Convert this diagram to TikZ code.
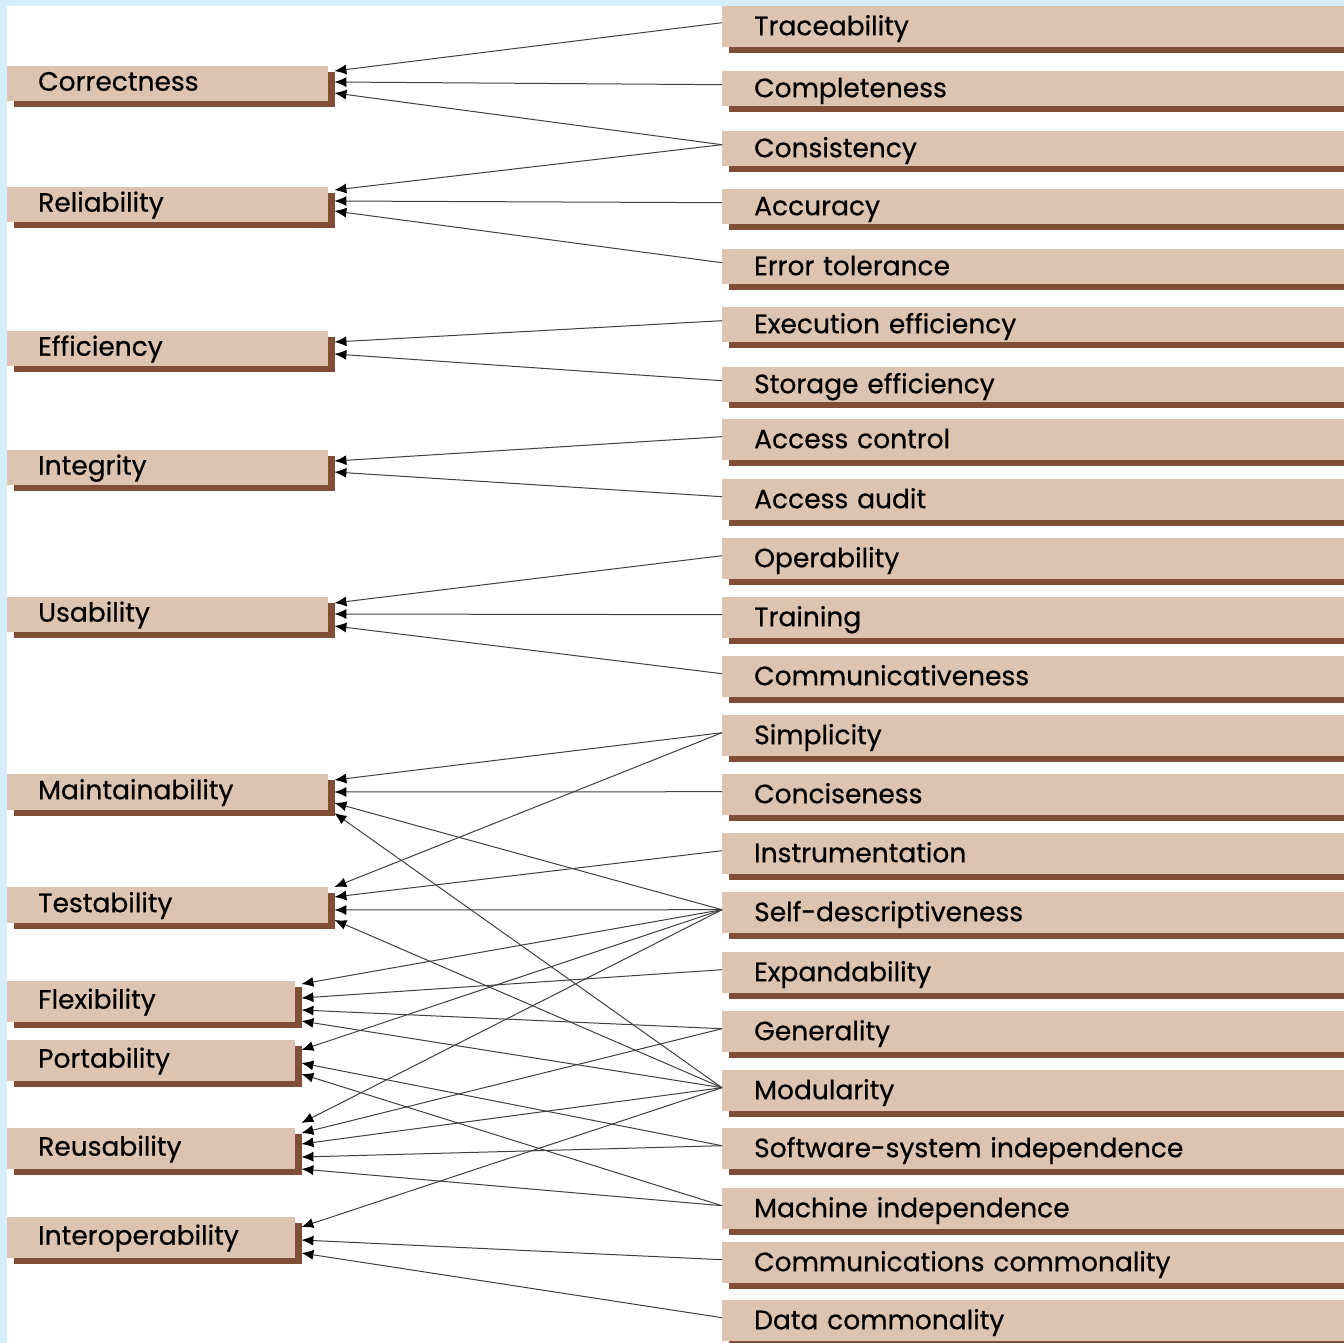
\documentclass[tikz,border=0pt]{standalone}
\usepackage{fontspec}
\setmainfont{Poppins}
\newfontfamily\labfamily{Poppins}[FakeBold=0.6]
\usetikzlibrary{arrows.meta,shadows}
\definecolor{boxfill}{RGB}{220,196,177}
\definecolor{shadowbr}{RGB}{128,78,54}
\definecolor{framebl}{RGB}{214,237,251}
\newcommand{\labfont}{\labfamily\fontsize{26.5pt}{30pt}\selectfont}

\begin{document}
\begin{tikzpicture}[x=1pt,y=-1pt,
    lbox/.style={anchor=north west, fill=boxfill,
      drop shadow={shadow xshift=7pt,shadow yshift=-6pt,fill=shadowbr,opacity=1},
      inner xsep=31pt, inner ysep=0pt, text width=259pt, minimum height=35pt,
      align=left, font=\labfont, text height=14pt, text depth=0pt},
    nbox/.style={lbox, text width=226pt, minimum height=41pt},
    sbox/.style={lbox, inner xsep=32pt, text width=600pt, text height=17pt,
      drop shadow={shadow xshift=8pt,shadow yshift=-6pt,fill=shadowbr,opacity=1}},
    rbox/.style={sbox, minimum height=41pt}]
      \useasboundingbox (0,0) rectangle (1344,1343);
      \fill[framebl] (0,0) rectangle (1344,1343);
      \fill[white] (7,6) rectangle (1344,1343);
      \clip (0,0) rectangle (1344,1343);
      % quality factors
      \draw
        (7,66) node[lbox] (corr){Correctness}
        (7,187) node[lbox] (rel){Reliability}
        (7,331) node[lbox] (eff){Efficiency}
        (7,450) node[lbox] (integ){Integrity}
        (7,597) node[lbox] (usab){Usability}
        (7,774) node[lbox,minimum height=36pt] (maint){Maintainability}
        (7,887) node[lbox,minimum height=36pt] (test){Testability}
        (7,981) node[nbox] (flex){Flexibility}
        (7,1040) node[nbox] (port){Portability}
        (7,1128) node[nbox] (reuse){Reusability}
        (7,1217) node[nbox] (interop){Interoperability};
      % criteria
      \draw
        (722,6) node[rbox] (trace){Traceability}
        (722,71) node[sbox] (compl){Completeness}
        (722,131) node[sbox] (consis){Consistency}
        (722,189) node[sbox] (accur){Accuracy}
        (722,249) node[sbox] (errtol){Error tolerance}
        (722,307) node[sbox] (exec){Execution efficiency}
        (722,367) node[sbox] (stor){Storage efficiency}
        (722,419) node[rbox] (acctrl){Access control}
        (722,479) node[rbox] (accaud){Access audit}
        (722,538) node[rbox] (oper){Operability}
        (722,597) node[rbox] (train){Training}
        (722,656) node[rbox] (comm){Communicativeness}
        (722,715) node[rbox] (simp){Simplicity}
        (722,774) node[rbox] (conc){Conciseness}
        (722,833) node[rbox] (instr){Instrumentation}
        (722,892) node[rbox] (sdesc){Self-descriptiveness}
        (722,952) node[rbox] (expand){Expandability}
        (722,1011) node[rbox] (gener){Generality}
        (722,1070) node[rbox] (modul){Modularity}
        (722,1128) node[rbox] (swsys){Software-system independence}
        (722,1188) node[rbox] (machine){Machine independence}
        (722,1242) node[rbox] (commc){Communications commonality}
        (722,1300) node[rbox] (datac){Data commonality};
      \begin{scope}[-{Latex[length=12pt,width=10pt,color=black]}, draw=black!75, line width=1pt]
        \draw ([shift={(0,-4)}]trace.west) to ([shift={(6,5)}]corr.north east);
        \draw ([shift={(0,-4)}]compl.west) to ([shift={(6,16)}]corr.north east);
        \draw ([shift={(0,-4)}]consis.west) to ([shift={(6,27)}]corr.north east);
        \draw ([shift={(0,-4)}]consis.west) to ([shift={(6,3)}]rel.north east);
        \draw ([shift={(0,-4)}]accur.west) to ([shift={(6,14)}]rel.north east);
        \draw ([shift={(0,-4)}]errtol.west) to ([shift={(6,24)}]rel.north east);
        \draw ([shift={(0,-4)}]exec.west) to ([shift={(6,11)}]eff.north east);
        \draw ([shift={(0,-4)}]stor.west) to ([shift={(6,23)}]eff.north east);
        \draw ([shift={(0,-3)}]acctrl.west) to ([shift={(6,11)}]integ.north east);
        \draw ([shift={(0,-3)}]accaud.west) to ([shift={(6,22)}]integ.north east);
        \draw ([shift={(0,-3)}]oper.west) to ([shift={(6,6)}]usab.north east);
        \draw ([shift={(0,-3)}]train.west) to ([shift={(6,17)}]usab.north east);
        \draw ([shift={(0,-3)}]comm.west) to ([shift={(6,29)}]usab.north east);
        \draw ([shift={(0,-3)}]simp.west) to ([shift={(6,6)}]maint.north east);
        \draw ([shift={(0,-3)}]conc.west) to ([shift={(6,18)}]maint.north east);
        \draw ([shift={(0,-3)}]sdesc.west) to ([shift={(6,29)}]maint.north east);
        \draw ([shift={(0,-3)}]modul.west) to ([shift={(6,39)}]maint.north east);
        \draw ([shift={(0,-3)}]simp.west) to ([shift={(6,0)}]test.north east);
        \draw ([shift={(0,-3)}]instr.west) to ([shift={(6,10)}]test.north east);
        \draw ([shift={(0,-3)}]sdesc.west) to ([shift={(6,23)}]test.north east);
        \draw ([shift={(0,-3)}]modul.west) to ([shift={(6,33)}]test.north east);
        \draw ([shift={(0,-3)}]sdesc.west) to ([shift={(6,3)}]flex.north east);
        \draw ([shift={(0,-3)}]expand.west) to ([shift={(6,17)}]flex.north east);
        \draw ([shift={(0,-3)}]gener.west) to ([shift={(6,29)}]flex.north east);
        \draw ([shift={(0,-3)}]modul.west) to ([shift={(6,40)}]flex.north east);
        \draw ([shift={(0,-3)}]sdesc.west) to ([shift={(6,10)}]port.north east);
        \draw ([shift={(0,-3)}]swsys.west) to ([shift={(6,23)}]port.north east);
        \draw ([shift={(0,-3)}]machine.west) to ([shift={(6,34)}]port.north east);
        \draw ([shift={(0,-3)}]sdesc.west) to ([shift={(6,-5)}]reuse.north east);
        \draw ([shift={(0,-3)}]gener.west) to ([shift={(6,5)}]reuse.north east);
        \draw ([shift={(0,-3)}]modul.west) to ([shift={(6,16)}]reuse.north east);
        \draw ([shift={(0,-3)}]swsys.west) to ([shift={(6,29)}]reuse.north east);
        \draw ([shift={(0,-3)}]machine.west) to ([shift={(6,41)}]reuse.north east);
        \draw ([shift={(0,-3)}]modul.west) to ([shift={(6,10)}]interop.north east);
        \draw ([shift={(0,-3)}]commc.west) to ([shift={(6,23)}]interop.north east);
        \draw ([shift={(0,-3)}]datac.west) to ([shift={(6,36)}]interop.north east);
      \end{scope}
    \end{tikzpicture}
\end{document}
